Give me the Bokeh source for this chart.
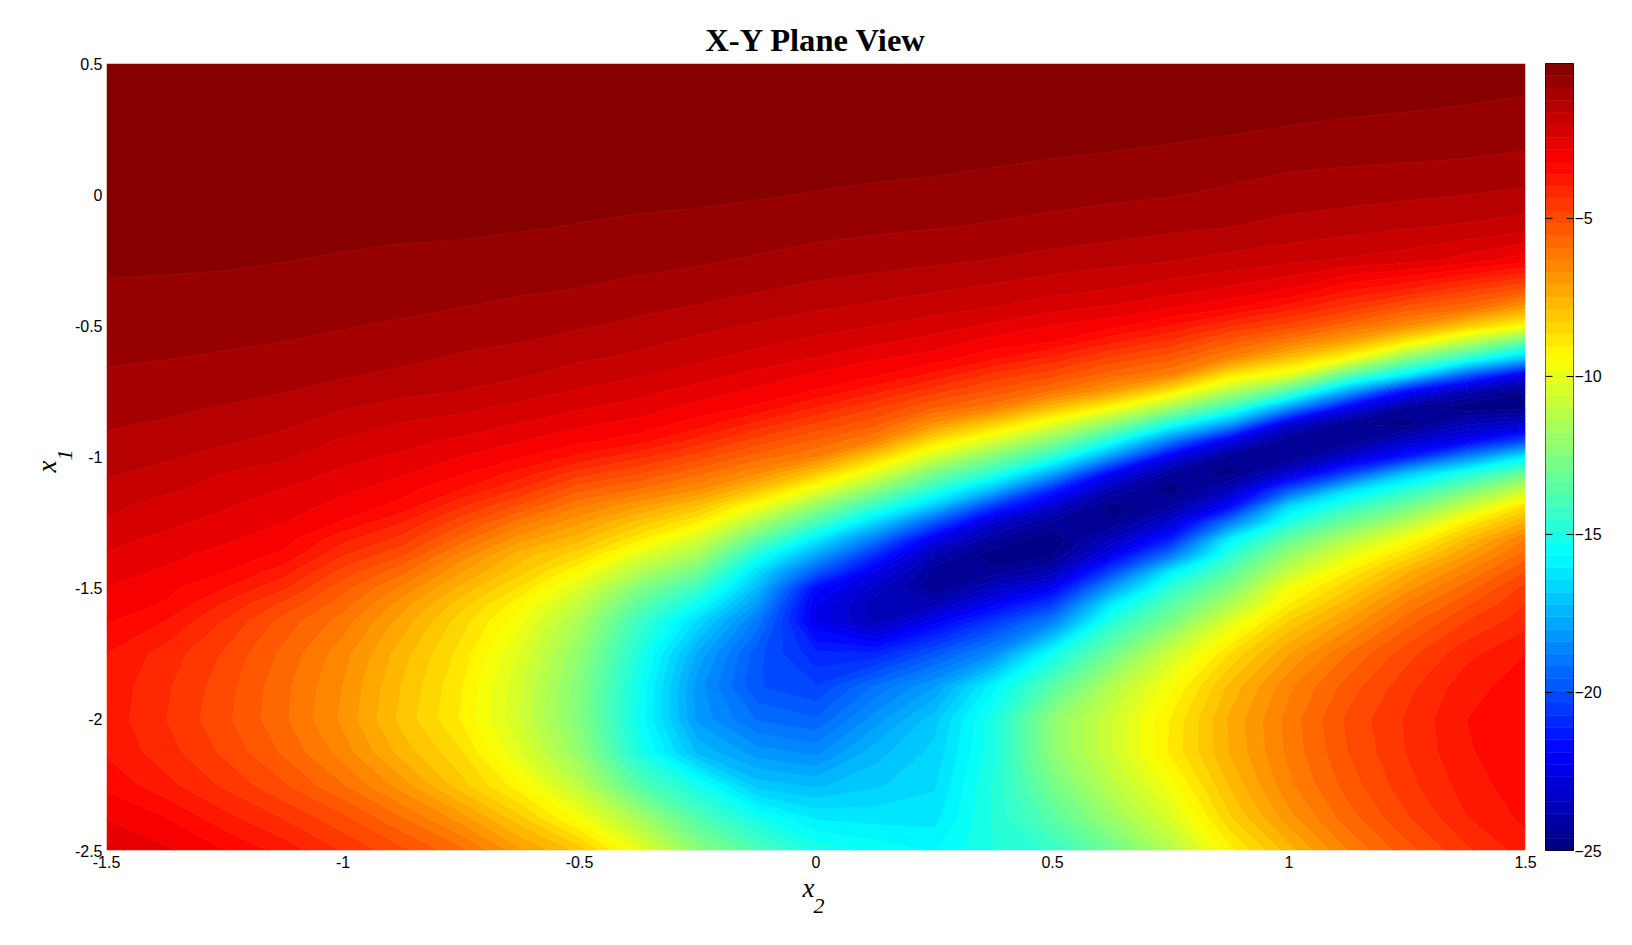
import numpy as np
from bokeh.embed import file_html
from bokeh.resources import INLINE
from bokeh.layouts import row
from bokeh.models import FixedTicker, Range1d, LinearAxis, Title
from bokeh.plotting import figure

X2 = [-1.5, -1.375, -1.25, -1.125, -1.0, -0.875, -0.75, -0.625, -0.5, -0.375, -0.25, -0.125, 0.0,
      0.125, 0.25, 0.375, 0.5, 0.625, 0.75, 0.875, 1.0, 1.125, 1.25, 1.375, 1.5]
X1 = [0.5, 0.375, 0.25, 0.125, 0.0, -0.125, -0.25, -0.375, -0.4375, -0.5, -0.5625, -0.625, -0.6875,
      -0.75, -0.8125, -0.875, -0.9375, -1.0, -1.0625, -1.125, -1.1875, -1.25, -1.3125, -1.375,
      -1.4375, -1.5, -1.5625, -1.625, -1.75, -1.875, -2.0, -2.125, -2.25, -2.375, -2.5]

col_a = [-.12,-.16,-.21,-.26,-.32,-.39,-.45,-.52,-.6,-.68,-.75,-.83,-.92,-1.02,-1.12,-1.22,-1.33,-1.46,-1.6,-1.76,-1.93,-2.1,-2.29,-2.46,-2.65,-2.83,-2.99,-3.15,-3.6,-3.72,-3.75,-3.65,-3.3,-2.85,-2.3]
col_b = [-.11,-.15,-.2,-.25,-.3,-.37,-.44,-.55,-.63,-.71,-.79,-.87,-.97,-1.07,-1.18,-1.31,-1.45,-1.6,-1.78,-1.97,-2.2,-2.33,-2.53,-2.7,-2.88,-3.1,-3.25,-3.6,-4.15,-4.3,-4.37,-4.2,-3.85,-3.2,-2.75]
col_c = [-.1,-.14,-.18,-.23,-.28,-.34,-.44,-.59,-.67,-.75,-.83,-.92,-1.04,-1.16,-1.29,-1.45,-1.6,-1.78,-2.05,-2.22,-2.39,-2.57,-2.74,-2.98,-3.2,-3.6,-4.05,-4.4,-4.82,-4.98,-5.05,-4.85,-4.45,-3.85,-3.2]
col_d = [-.09,-.13,-.18,-.23,-.29,-.37,-.48,-.63,-.71,-.79,-.88,-1.0,-1.13,-1.25,-1.41,-1.58,-1.77,-1.98,-2.2,-2.45,-2.64,-2.82,-3.04,-3.3,-3.8,-4.3,-4.85,-5.3,-5.65,-5.82,-5.85,-5.6,-5.1,-4.4,-3.75]
col_e = [-.08,-.12,-.17,-.23,-.31,-.4,-.52,-.68,-.77,-.85,-.96,-1.08,-1.22,-1.4,-1.62,-1.85,-2.09,-2.3,-2.52,-2.73,-2.95,-3.25,-3.85,-4.35,-4.9,-5.4,-5.75,-6.1,-6.55,-6.72,-6.8,-6.5,-5.9,-5.05,-4.4]
col_f = [-.08,-.12,-.17,-.23,-.31,-.42,-.56,-.72,-.81,-.93,-1.06,-1.18,-1.35,-1.56,-1.79,-2.07,-2.3,-2.5,-2.77,-3.05,-3.35,-3.95,-4.5,-5.1,-5.8,-6.4,-6.9,-7.25,-7.7,-7.9,-8,-7.65,-6.9,-5.9,-5.05]
col_g = [-.07,-.11,-.16,-.22,-.3,-.42,-.6,-.78,-.89,-1.03,-1.17,-1.32,-1.49,-1.66,-1.95,-2.2,-2.5,-2.83,-3.16,-3.6,-4.3,-5,-5.7,-6.45,-7.05,-7.6,-8.1,-8.45,-8.8,-9,-9.08,-8.6,-8.1,-6.9,-5.8]
col_h = [-.07,-.11,-.16,-.23,-.32,-.46,-.66,-.85,-.99,-1.11,-1.26,-1.43,-1.6,-1.87,-2.14,-2.46,-2.8,-3.17,-3.75,-4.4,-5.2,-6.1,-6.9,-7.7,-8.1,-8.7,-9.3,-9.7,-10.25,-10.55,-10.6,-10.2,-9.3,-8.15,-7]
col_i = [-.08,-.13,-.19,-.27,-.36,-.51,-.7,-.91,-1.07,-1.22,-1.41,-1.6,-1.86,-2.08,-2.38,-2.74,-3.08,-3.7,-4.55,-5.4,-6.25,-7,-7.7,-8.5,-9.4,-10.3,-10.95,-11.5,-12.15,-12.45,-12.5,-12.1,-11.1,-9.6,-8]
col_j = [-.08,-.13,-.2,-.29,-.39,-.56,-.75,-1.02,-1.19,-1.36,-1.55,-1.75,-2,-2.3,-2.6,-2.97,-3.4,-4.25,-5.1,-5.95,-7,-8,-8.9,-10.1,-11.3,-12.5,-13.4,-14.2,-14.9,-15.25,-15.35,-15,-13.6,-11.6,-9.9]
col_k = [-.08,-.13,-.2,-.3,-.41,-.6,-.82,-1.14,-1.32,-1.52,-1.76,-1.97,-2.25,-2.6,-2.95,-3.4,-4.1,-4.95,-5.8,-6.65,-7.9,-9.05,-10.4,-11.6,-12.9,-14.2,-15.4,-16.5,-17.7,-18.2,-18.1,-17.3,-15.2,-13.7,-12.2]
col_l = [-.07,-.12,-.2,-.31,-.45,-.68,-.92,-1.27,-1.5,-1.7,-1.94,-2.2,-2.55,-2.9,-3.3,-4.1,-4.9,-5.7,-6.6,-7.9,-9.6,-11.4,-13.2,-15,-16.4,-17.3,-18.1,-18.9,-19.8,-19.9,-19.2,-18.2,-17,-15.2,-13.7]
col_m = [-.07,-.12,-.2,-.32,-.51,-.75,-1.03,-1.4,-1.63,-1.88,-2.15,-2.46,-2.88,-3.25,-4,-4.8,-5.55,-6.3,-8,-9.9,-12,-13.9,-16,-17.8,-19.7,-21.7,-22.3,-22.3,-21,-20.3,-19.5,-18.5,-17.3,-16.1,-15]
col_n = [-.08,-.13,-.22,-.35,-.57,-.81,-1.1,-1.52,-1.77,-2.03,-2.36,-2.78,-3.15,-3.85,-4.7,-5.4,-6.3,-8.2,-10.1,-12.2,-14.4,-16.6,-18.9,-20.9,-22.4,-23.2,-23.7,-23.6,-21,-19.1,-18.2,-17.4,-16.9,-16.2,-15.4]
col_o = [-.08,-.14,-.23,-.38,-.62,-.86,-1.19,-1.66,-1.93,-2.23,-2.62,-3.0,-3.7,-4.6,-5.5,-6.8,-8.6,-10.5,-12.7,-14.7,-16.9,-19.8,-22.3,-23.8,-24.4,-24.6,-23.6,-22.1,-19.8,-18,-17,-16.7,-16.5,-16.2,-15.7]
col_p = [-.08,-.15,-.26,-.45,-.68,-.92,-1.28,-1.8,-2.08,-2.5,-2.98,-3.55,-4.45,-5.25,-6.2,-8.25,-10.3,-12.5,-14.6,-17.3,-20.5,-23.1,-24.2,-24.9,-24.5,-23.3,-22,-20.6,-18.4,-15.8,-15,-15,-14.8,-14.8,-14.9]
col_q = [-.08,-.16,-.29,-.51,-.74,-1.0,-1.4,-1.98,-2.35,-2.83,-3.22,-4.1,-5,-5.95,-7.8,-10,-12.3,-14.6,-17.7,-21,-23,-24.3,-24.95,-24.7,-23.7,-22.1,-20.4,-18.8,-15.3,-13.5,-12.2,-12.2,-12.8,-13.5,-14.4]
col_r = [-.09,-.18,-.33,-.56,-.8,-1.08,-1.52,-2.12,-2.55,-3.07,-3.9,-4.85,-5.75,-6.95,-9.4,-12.2,-15,-18.2,-22,-23.8,-24.9,-24.6,-23.5,-22.2,-20.2,-18,-16,-14.8,-12.9,-11.3,-10.6,-10.6,-11.1,-11.9,-13]
col_s = [-.1,-.2,-.37,-.63,-.85,-1.18,-1.63,-2.35,-2.85,-3.6,-4.5,-5.4,-6.3,-8.8,-11.7,-15,-18.8,-22.3,-24.3,-24.9,-24.2,-22.9,-21.2,-18.9,-16,-14.5,-13.5,-12.7,-10.6,-9.5,-9,-8.95,-9.6,-10.3,-11.3]
col_t = [-.12,-.25,-.44,-.7,-.95,-1.27,-1.78,-2.6,-3.25,-4.3,-5.4,-6.4,-8.8,-11.3,-14.2,-18,-22.4,-24.5,-24.8,-23.5,-21.8,-18.8,-15.9,-14.6,-13.5,-12.5,-11.4,-10.2,-8.6,-7.75,-7.4,-7.45,-7.8,-8.3,-9.2]
col_u = [-.14,-.3,-.51,-.79,-1.07,-1.39,-1.93,-2.95,-3.9,-4.9,-6.2,-7.9,-10,-13.7,-18.1,-22.9,-24.6,-24.6,-22.9,-19.8,-16.5,-14.8,-13.2,-11.9,-10.8,-9.6,-9,-8.2,-7.1,-6.4,-6.15,-6.2,-6.4,-6.85,-7.65]
col_v = [-.16,-.33,-.57,-.83,-1.12,-1.5,-2.1,-3.7,-4.6,-5.75,-7.2,-9.5,-13.3,-17.8,-22.1,-24.6,-24.6,-23,-20.2,-16.5,-14.5,-12.9,-11.3,-10,-9,-8.3,-7.6,-7,-5.9,-5.35,-5.05,-5.15,-5.35,-5.7,-6.3]
col_w = [-.2,-.37,-.62,-.87,-1.18,-1.63,-2.25,-4.2,-5.4,-6.6,-9,-12.4,-16,-21.7,-24.3,-24.8,-23.2,-21.2,-17,-14.6,-12.9,-11.2,-9.6,-8.5,-7.5,-6.85,-6.2,-5.7,-4.9,-4.5,-4.3,-4.35,-4.5,-4.8,-5.3]
col_x = [-.24,-.42,-.67,-.9,-1.26,-1.72,-2.6,-4.85,-5.9,-8,-11.1,-14.6,-19.6,-23.7,-24.9,-23.5,-22.1,-18.5,-14.9,-12.8,-10.8,-9,-7.8,-7,-6.3,-5.7,-5.2,-4.75,-4.1,-3.75,-3.6,-3.65,-3.8,-4,-4.45]
col_y = [-.3,-.49,-.72,-.96,-1.36,-1.85,-3.05,-5.5,-7.2,-9.4,-13.2,-17.1,-22.4,-24.6,-24.8,-23,-20.1,-15.9,-13,-10.7,-8.6,-7.4,-6.3,-5.7,-5.1,-4.6,-4.35,-4.15,-3.6,-3.4,-3.3,-3.3,-3.35,-3.5,-3.8]

X_TICKS = [-1.5, -1, -0.5, 0, 0.5, 1, 1.5]
Y_TICKS = [0.5, 0, -0.5, -1, -1.5, -2, -2.5]
CB_TICKS = [-5, -10, -15, -20, -25]
TITLE = "X-Y Plane View"
VMIN, VMAX, NBANDS = -25.0, -0.1, 64


def jet(t):
    r = np.clip(min(4 * t - 1.5, -4 * t + 4.5), 0, 1)
    g = np.clip(min(4 * t - 0.5, -4 * t + 3.5), 0, 1)
    b = np.clip(min(4 * t + 0.5, -4 * t + 2.5), 0, 1)
    return "#%02x%02x%02x" % (round(r * 255), round(g * 255), round(b * 255))


palette = [jet((i + 0.5) / NBANDS) for i in range(NBANDS)]
edges = np.linspace(VMIN, VMAX, NBANDS + 1)
levels = list(edges)
levels[-1] = 0.0
line_palette = [palette[0]] + palette

Z = np.array([col_a, col_b, col_c, col_d, col_e, col_f, col_g, col_h, col_i, col_j, col_k, col_l, col_m,
              col_n, col_o, col_p, col_q, col_r, col_s, col_t, col_u, col_v, col_w, col_x, col_y]).T
xx, yy = np.meshgrid(np.array(X2), np.array(X1))

TICK_FONT = "Liberation Sans"
p = figure(width=1538, height=930, output_backend="svg", toolbar_location=None,
           x_range=Range1d(-1.5, 1.5), y_range=Range1d(-2.5, 0.5),
           min_border_left=106, min_border_right=13, min_border_top=63, min_border_bottom=80)
p.frame_width = 1419
p.frame_height = 787
p.contour(xx, yy, Z, levels=levels, fill_color=palette, line_color=line_palette, line_width=1)
p.grid.visible = False
p.outline_line_color = None

p.title.text = TITLE
p.title.text_font = "Liberation Serif"
p.title.text_font_style = "bold"
p.title.text_font_size = "32.6px"
p.title.align = "center"
p.title.text_color = "#000000"
p.title.standoff = 12

for ax, ticks in ((p.xaxis[0], X_TICKS), (p.yaxis[0], Y_TICKS)):
    ax.ticker = FixedTicker(ticks=ticks)
    ax.major_label_overrides = {t: str(t) for t in ticks}
    ax.major_label_text_font = TICK_FONT
    ax.major_label_text_font_size = "16px"
    ax.major_label_text_color = "#000000"
    ax.axis_line_color = None
    ax.major_tick_line_color = None
    ax.minor_tick_line_color = None
    ax.major_tick_out = 0
    ax.major_tick_in = 0
p.xaxis[0].major_label_standoff = 5
p.yaxis[0].major_label_standoff = 4


def side_text(s, size, place, offset, standoff):
    t = Title(text=s, align="left", offset=offset, standoff=standoff,
              text_font="Liberation Serif", text_font_style="italic",
              text_font_size=size, text_color="#000000")
    p.add_layout(t, place)


side_text("x", "27px", "below", 696, 0)
side_text("2", "22px", "below", 707, -12)
side_text("1", "22px", "left", 390, 0)
side_text("x", "27px", "left", 378, -12)

cb = figure(width=80, height=930, output_backend="svg", toolbar_location=None,
            x_range=Range1d(0, 1), y_range=Range1d(VMIN, VMAX),
            min_border_left=7, min_border_right=45, min_border_top=63, min_border_bottom=80)
cb.frame_width = 28
cb.frame_height = 787
cb.quad(left=0, right=1, bottom=edges[:-1], top=edges[1:], fill_color=palette, line_color=palette, line_width=0.5)
cb.segment(x0=0, x1=0.25, y0=CB_TICKS, y1=CB_TICKS, line_color="#000000", line_width=1)
cb.grid.visible = False
cb.xaxis.visible = False
cb.yaxis.visible = False
cb.outline_line_color = "#000000"
cb.outline_line_width = 1
a = LinearAxis(ticker=FixedTicker(ticks=CB_TICKS))
a.major_tick_in = 7
a.major_tick_out = 0
a.major_tick_line_color = "#000000"
a.minor_tick_line_color = None
a.axis_line_color = None
a.major_label_text_font = TICK_FONT
a.major_label_text_font_size = "16px"
a.major_label_text_color = "#000000"
a.major_label_standoff = 1
cb.add_layout(a, "right")

page = row(p, cb, spacing=0)
open("out.html", "w").write(file_html(page, INLINE))
